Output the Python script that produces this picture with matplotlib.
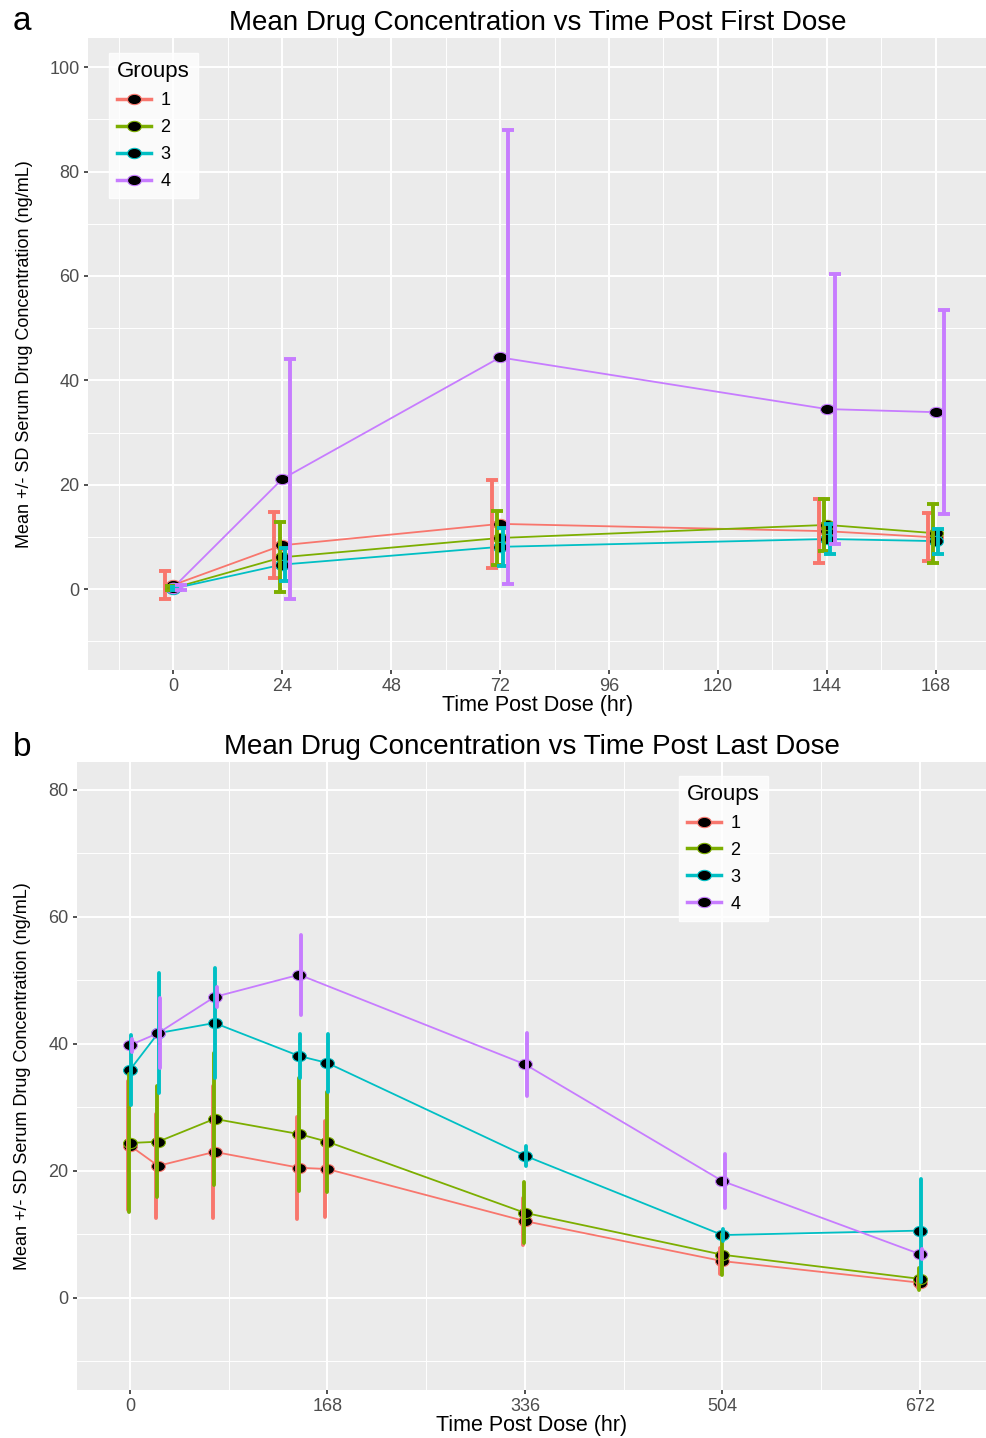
import matplotlib
matplotlib.use("Agg")
import matplotlib.pyplot as plt
from matplotlib.path import Path
from matplotlib.transforms import Affine2D
from matplotlib.lines import Line2D
import numpy as np

plt.rcParams['font.family'] = ['Liberation Sans', 'DejaVu Sans']

# group colours (ggplot default hue palette)
group_names = ['1', '2', '3', '4']
group_colors = ['#F8766D', '#7CAE00', '#00BFC4', '#C77CFF']
dodge = [-1.75, -0.6, 0.6, 1.75]

# panel a: after first dose
first_times = [0, 24, 72, 144, 168]
first_mean = {
    '1': [0.8, 8.4, 12.5, 11.1, 9.9],
    '2': [0.2, 6.1, 9.8, 12.3, 10.7],
    '3': [0.1, 4.7, 8.1, 9.6, 9.2],
    '4': [0.3, 21.1, 44.4, 34.5, 33.9],
}
first_sd = {
    '1': [2.6, 6.3, 8.4, 6.1, 4.6],
    '2': [0.3, 6.7, 5.2, 5.0, 5.7],
    '3': [0.3, 3.1, 3.6, 2.9, 2.4],
    '4': [0.4, 22.9, 43.5, 25.8, 19.5],
}

# panel b: after last dose
last_times = {
    '1': [0, 24, 72, 144, 168, 336, 504, 672],
    '2': [0, 24, 72, 144, 168, 336, 504, 672],
    '3': [0, 24, 72, 144, 168, 336, 504, 672],
    '4': [0, 24, 72, 144, 336, 504, 672],
}
last_mean = {
    '1': [24.0, 20.8, 23.0, 20.5, 20.3, 12.1, 5.8, 2.4],
    '2': [24.4, 24.6, 28.2, 25.8, 24.6, 13.4, 6.8, 3.0],
    '3': [35.9, 41.7, 43.3, 38.1, 37.0, 22.4, 9.9, 10.6],
    '4': [39.8, 41.7, 47.4, 50.9, 36.8, 18.4, 6.9],
}
last_sd = {
    '1': [10.2, 8.2, 10.4, 8.0, 7.6, 3.7, 2.0, 0.8],
    '2': [10.8, 8.7, 10.4, 8.9, 7.9, 4.8, 3.2, 1.7],
    '3': [5.5, 9.4, 8.7, 3.4, 4.6, 1.6, 1.0, 8.1],
    '4': [1.0, 5.5, 1.6, 6.3, 5.0, 4.2, 0.8],
}

ylabel = 'Mean +/- SD Serum Drug Concentration (ng/mL)'
xlabel = 'Time Post Dose (hr)'

# black ellipse marker like the stretched ggplot points
ellipse = Path.unit_circle().transformed(Affine2D().scale(1.35, 1.0))


def style_axes(ax, xmajor, xminor, ymajor, yminor):
    ax.set_facecolor('#EBEBEB')
    for s in ax.spines.values():
        s.set_visible(False)
    ax.set_xticks(xmajor)
    ax.set_xticks(xminor, minor=True)
    ax.set_yticks(ymajor)
    ax.set_yticks(yminor, minor=True)
    ax.grid(which='major', color='white', lw=1.4)
    ax.grid(which='minor', color='white', lw=0.7)
    ax.set_axisbelow(True)
    ax.tick_params(which='major', length=3, width=1.2, color='#333333',
                   labelcolor='#4D4D4D', labelsize=13, pad=3)
    ax.tick_params(which='minor', length=0)


def draw_panel(ax, times, means, sds, capsize):
    for i, g in enumerate(group_names):
        t = np.array(times[g] if isinstance(times, dict) else times, dtype=float)
        m = np.array(means[g])
        s = np.array(sds[g])
        c = group_colors[i]
        ax.plot(t, m, color=c, lw=1.3, zorder=2)
        ax.plot(t, m, ls='none', marker=ellipse, ms=10, mfc='black',
                mec=c, mew=0.8, zorder=3)
        eb = ax.errorbar(t + dodge[i], m, yerr=s, fmt='none', ecolor=c,
                         elinewidth=2.8, capsize=capsize, capthick=2.8,
                         zorder=4 + i * 0.1)
        if capsize == 0:
            for lc in eb.lines[2]:
                lc.set_capstyle('round')


def add_legend(ax, x, y):
    handles = [Line2D([], [], color=c, lw=2.5, marker=ellipse, ms=10,
                      mfc='black', mec=c, mew=0.8) for c in group_colors]
    leg = ax.legend(handles, group_names, title='Groups', loc='upper left',
                    bbox_to_anchor=(x, y), frameon=True, fancybox=False,
                    fontsize=13, title_fontsize=16, handlelength=1.9,
                    labelspacing=0.55, borderpad=0.45, handletextpad=0.5,
                    borderaxespad=0, numpoints=1)
    leg.get_frame().set_facecolor('white')
    leg.get_frame().set_edgecolor('white')
    leg._legend_box.align = 'left'
    leg.set_zorder(10)


fig = plt.figure(figsize=(9.87, 14.38), dpi=100)
W, H = 987, 1438

# panel a
ax1 = fig.add_axes([88 / W, 1 - 670 / H, (W - 88) / W, 632 / H])
style_axes(ax1, list(range(0, 169, 24)), list(range(-12, 181, 24)),
           list(range(0, 101, 20)), list(range(-10, 101, 20)))
draw_panel(ax1, first_times, first_mean, first_sd, capsize=4)
ax1.set_xlim(-18.8, 179.3)
ax1.set_ylim(-15.5, 105.6)
ax1.set_title('Mean Drug Concentration vs Time Post First Dose',
              fontsize=20, pad=6)
ax1.set_xlabel(xlabel, fontsize=15.5, labelpad=0)
ax1.set_ylabel(ylabel, fontsize=13)
ax1.yaxis.set_label_coords(-0.061, 0.5)
add_legend(ax1, 0.0234, 0.976)

# panel b
ax2 = fig.add_axes([77 / W, 1 - 1390 / H, (W - 77) / W, 628 / H])
style_axes(ax2, [0, 168, 336, 504, 672], [84, 252, 420, 588],
           list(range(0, 81, 20)), list(range(-10, 81, 20)))
draw_panel(ax2, last_times, last_mean, last_sd, capsize=0)
ax2.set_xlim(-45, 729)
ax2.set_ylim(-14.5, 84.4)
ax2.set_title('Mean Drug Concentration vs Time Post Last Dose',
              fontsize=20, pad=6)
ax2.set_xlabel(xlabel, fontsize=15.5, labelpad=0)
ax2.set_ylabel(ylabel, fontsize=13)
ax2.yaxis.set_label_coords(-0.0505, 0.5)
add_legend(ax2, 0.6615, 0.978)

fig.text(22 / W, 1 - 22 / H, 'a', fontsize=24, ha='center', va='center')
fig.text(22 / W, 1 - 748 / H, 'b', fontsize=24, ha='center', va='center')

fig.savefig('out.png', dpi=100)
